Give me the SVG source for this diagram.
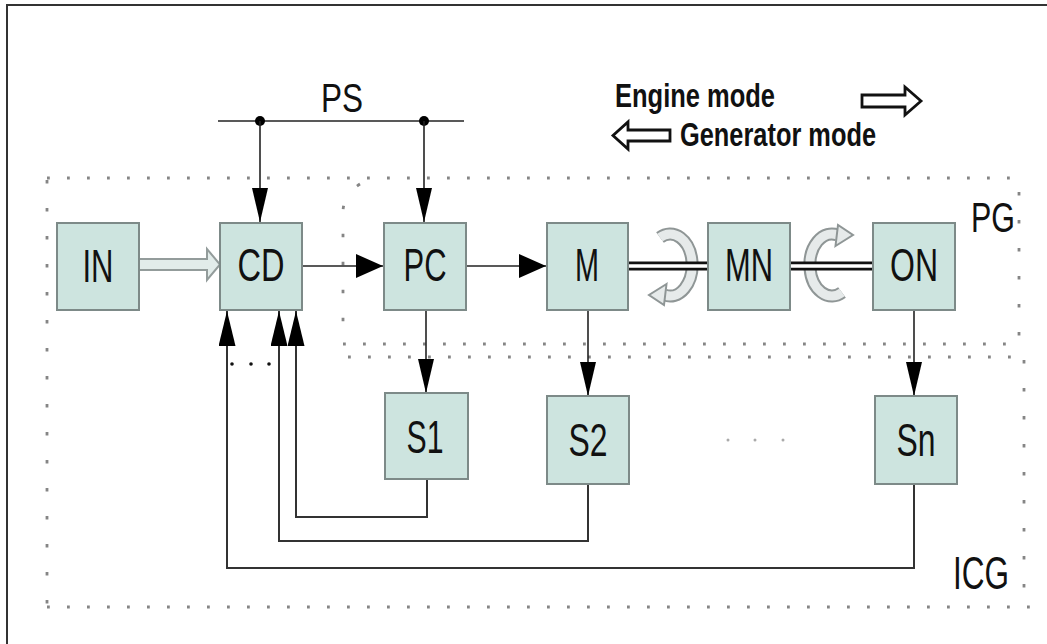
<svg xmlns="http://www.w3.org/2000/svg" width="1047" height="644" viewBox="0 0 1047 644">
<style>
.box{fill:#cde4df;stroke:#7d8a88;stroke-width:2}
.lbl{font-family:"Liberation Sans",Arial,sans-serif;font-size:46px;fill:#111;text-anchor:middle}
.big{font-family:"Liberation Sans",Arial,sans-serif;fill:#111}
.bold{font-family:"Liberation Sans",Arial,sans-serif;font-weight:bold;font-size:33px;fill:#111}
.ln{fill:none;stroke:#222;stroke-width:1.6}
.fb{fill:none;stroke:#333;stroke-width:2}
.dh{fill:none;stroke:#858585;stroke-width:2.8;stroke-dasharray:2.8 17.2}
.dv{fill:none;stroke:#858585;stroke-width:2.8;stroke-dasharray:3.5 24.5}
.band{fill:none;stroke:#8f9696;stroke-width:13}
.bandi{fill:none;stroke:#e6eaea;stroke-width:9}
.hd{fill:#e6eaea;stroke:#8f9696;stroke-width:2}
</style>
<defs>
<marker id="aV" markerUnits="userSpaceOnUse" markerWidth="36" markerHeight="18" refX="34" refY="8" orient="auto" viewBox="0 0 36 18">
<path d="M0,0 L34,8 L0,16 Z" fill="#000"/>
</marker>
<marker id="aW" markerUnits="userSpaceOnUse" markerWidth="36" markerHeight="18" refX="35" refY="8.5" orient="auto" viewBox="0 0 36 18">
<path d="M0,0 L35,8.5 L0,17 Z" fill="#000"/>
</marker>
<marker id="aH" markerUnits="userSpaceOnUse" markerWidth="30" markerHeight="26" refX="27" refY="12" orient="auto" viewBox="0 0 30 26">
<path d="M0,0 L27,12 L0,24 Z" fill="#000"/>
</marker>
<g id="rot">
<path class="band" d="M-10,-27.5 A22,31 0 1 1 -5.5,30"/>
<path class="bandi" d="M-10,-27.5 A22,31 0 1 1 -5.5,30"/>
<path class="hd" d="M-3.5,19 L-21,30 L-6,40 Z"/>
</g>
</defs>

<g id="frame">
<line x1="7" y1="4" x2="7" y2="644" stroke="#333" stroke-width="2"/>
<line x1="6" y1="5" x2="1047" y2="5" stroke="#333" stroke-width="2"/>
</g>

<g id="ICG">
<line class="dh" x1="47" y1="178" x2="1022" y2="178"/>
<line class="dv" x1="47" y1="180" x2="47" y2="607"/>
<line class="dh" x1="47" y1="607" x2="1030" y2="607"/>
<line class="dv" x1="1024" y1="360" x2="1024" y2="607"/>
<text class="big" x="981" y="589" font-size="46" text-anchor="middle" textLength="56" lengthAdjust="spacingAndGlyphs">ICG</text>
</g>

<g id="PG">
<path class="dv" d="M360,184 Q342,195 343,215 L343,343"/>
<line class="dh" x1="343" y1="344" x2="1020" y2="344"/>
<line class="dh" x1="348" y1="357" x2="1022" y2="357"/>
<line class="dv" x1="1019" y1="192" x2="1019" y2="357"/>
<text class="big" x="993" y="232" font-size="42" text-anchor="middle" textLength="44" lengthAdjust="spacingAndGlyphs">PG</text>
</g>

<g id="legend">
<text class="bold" x="615" y="107" textLength="160" lengthAdjust="spacingAndGlyphs">Engine mode</text>
<text class="bold" x="680" y="146" textLength="196" lengthAdjust="spacingAndGlyphs">Generator mode</text>
<polygon points="862,95 905,95 905,87 921,101 905,115 905,107 862,107" fill="#fff" stroke="#111" stroke-width="2.8"/>
<polygon points="670,130 628,130 628,122 613,135.5 628,149 628,141 670,141" fill="#fff" stroke="#111" stroke-width="2.8"/>
</g>

<g id="PS">
<text class="big" x="342" y="112" font-size="40" text-anchor="middle" textLength="42" lengthAdjust="spacingAndGlyphs">PS</text>
</g>

<g id="connectors">
<line class="ln" x1="218" y1="121" x2="464" y2="121" stroke-width="2"/>
<circle cx="260" cy="121" r="5" fill="#000"/>
<circle cx="424" cy="121" r="5" fill="#000"/>
<line class="ln" x1="260" y1="121" x2="260" y2="222" marker-end="url(#aV)"/>
<line class="ln" x1="424" y1="121" x2="424" y2="222" marker-end="url(#aV)"/>
<polygon points="139,259 207,259 207,249 220,264.5 207,280 207,270 139,270" fill="#e2ecea" stroke="#939c9b" stroke-width="2"/>
<line class="ln" x1="302" y1="266" x2="383" y2="266" marker-end="url(#aH)"/>
<line class="ln" x1="466" y1="266" x2="546" y2="266" marker-end="url(#aH)"/>
<line class="ln" x1="426" y1="310" x2="426" y2="393" marker-end="url(#aV)"/>
<line class="ln" x1="588" y1="310" x2="588" y2="396" marker-end="url(#aV)"/>
<line class="ln" x1="914" y1="310" x2="914" y2="396" marker-end="url(#aV)"/>
<polyline class="fb" points="427,479 427,517 296,517 296,311" marker-end="url(#aW)"/>
<polyline class="fb" points="588,484 588,541 279,541 279,311" marker-end="url(#aW)"/>
<polyline class="fb" points="914,484 914,568 227,568 227,311" marker-end="url(#aW)"/>
<use href="#rot" transform="translate(670,265)"/>
<use href="#rot" transform="translate(832,265) rotate(180)"/>
<line x1="628" y1="266" x2="708" y2="266" stroke="#111" stroke-width="9"/>
<line x1="628" y1="266" x2="708" y2="266" stroke="#fff" stroke-width="3.5"/>
<line x1="790" y1="266" x2="873" y2="266" stroke="#111" stroke-width="9"/>
<line x1="790" y1="266" x2="873" y2="266" stroke="#fff" stroke-width="3.5"/>
<circle cx="232" cy="364" r="1.8" fill="#111"/>
<circle cx="251" cy="364" r="1.8" fill="#111"/>
<circle cx="269" cy="364" r="1.8" fill="#111"/>
<circle cx="728" cy="440" r="1.5" fill="#aaa"/>
<circle cx="755" cy="440" r="1.5" fill="#aaa"/>
<circle cx="783" cy="440" r="1.5" fill="#aaa"/>
</g>

<g id="IN"><rect class="box" x="57" y="223" width="82" height="87"/><text class="lbl" x="98" y="282" textLength="31" lengthAdjust="spacingAndGlyphs">IN</text></g>
<g id="CD"><rect class="box" x="220" y="223" width="82" height="87"/><text class="lbl" x="261" y="281" textLength="47" lengthAdjust="spacingAndGlyphs">CD</text></g>
<g id="PC"><rect class="box" x="384" y="223" width="82" height="87"/><text class="lbl" x="425" y="281" textLength="43" lengthAdjust="spacingAndGlyphs">PC</text></g>
<g id="M"><rect class="box" x="547" y="223" width="81" height="87"/><text class="lbl" x="587" y="281" textLength="24" lengthAdjust="spacingAndGlyphs">M</text></g>
<g id="MN"><rect class="box" x="708" y="223" width="82" height="87"/><text class="lbl" x="749" y="281" textLength="48" lengthAdjust="spacingAndGlyphs">MN</text></g>
<g id="ON"><rect class="box" x="873" y="223" width="82" height="87"/><text class="lbl" x="914" y="281" textLength="48" lengthAdjust="spacingAndGlyphs">ON</text></g>
<g id="S1"><rect class="box" x="385" y="393" width="83" height="86"/><text class="lbl" x="425" y="453" textLength="37" lengthAdjust="spacingAndGlyphs">S1</text></g>
<g id="S2"><rect class="box" x="547" y="396" width="82" height="88"/><text class="lbl" x="588" y="456" textLength="39" lengthAdjust="spacingAndGlyphs">S2</text></g>
<g id="Sn"><rect class="box" x="875" y="396" width="82" height="88"/><text class="lbl" x="916" y="456" textLength="39" lengthAdjust="spacingAndGlyphs">Sn</text></g>
</svg>
